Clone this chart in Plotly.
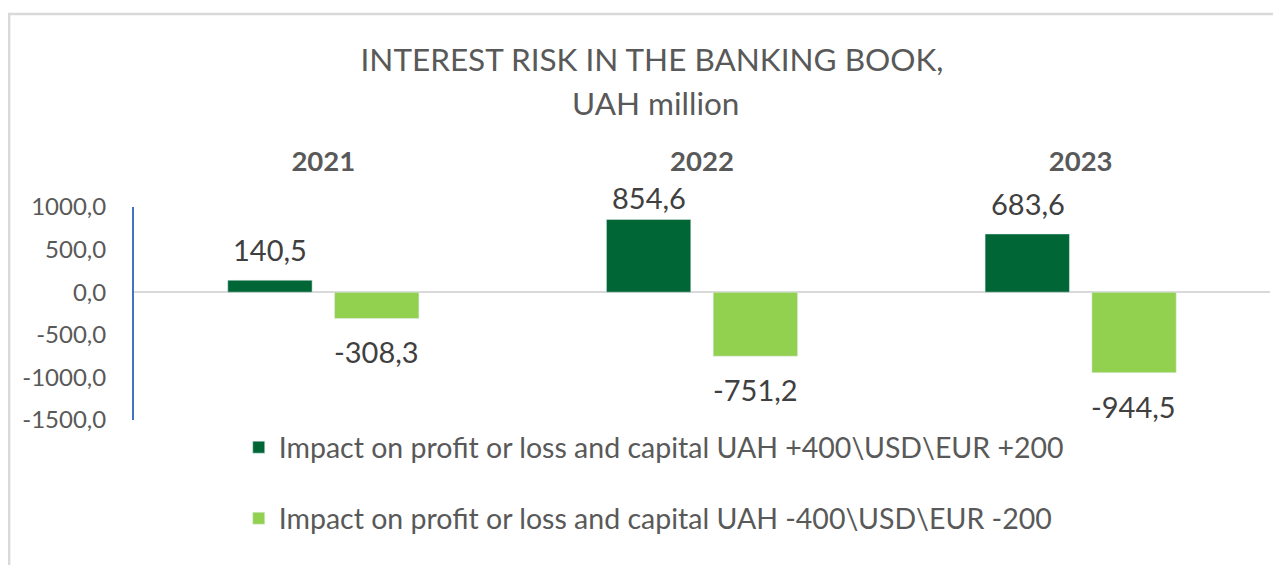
import plotly.graph_objects as go

years = ["2021", "2022", "2023"]
series_up_name = "Impact on profit or loss and capital UAH +400\\USD\\EUR +200"
series_down_name = "Impact on profit or loss and capital UAH -400\\USD\\EUR -200"
series_up = [140.5, 854.6, 683.6]
series_down = [-308.3, -751.2, -944.5]
y_ticks = [1000, 500, 0, -500, -1000, -1500]

FONT = "Lato"
GRAY = "#595959"
DARK = "#006636"
LIGHT = "#92D050"
OFF = 8  # page body margin
Y_MAX = 1000


def fmt(v):
    return f"{v:.1f}".replace(".", ",")


def label_shift(v):
    # Labels near the top of the plot area are pulled closer to the bar (as Excel does)
    if v >= 0:
        return 2 if v > 0.8 * Y_MAX else 11
    return -14


fig = go.Figure()
fig.add_trace(go.Bar(x=years, y=series_up, name=series_up_name, marker_color=DARK,
                     legendgroup="a", hoverinfo="skip"))
fig.add_trace(go.Bar(x=years, y=series_down, name=series_down_name, marker_color=LIGHT,
                     legendgroup="b", hoverinfo="skip"))

for vals, shift in ((series_up, -53), (series_down, 53)):
    for i, v in enumerate(vals):
        fig.add_annotation(
            x=i, y=v, xref="x", yref="y", xshift=shift,
            yshift=label_shift(v),
            yanchor="bottom" if v >= 0 else "top",
            text=fmt(v), showarrow=False,
            font=dict(family=FONT, size=29, color="#404040"))

fig.add_annotation(text="UAH million", xref="paper", yref="paper",
                   x=(652 - 134) / 1128, y=(420 - 103) / 213, xanchor="center",
                   yanchor="middle", showarrow=False,
                   font=dict(family=FONT, size=31.5, color=GRAY))

fig.update_layout(
    width=1281 - OFF, height=565 - OFF,
    margin=dict(l=134 - OFF, r=19 - OFF, t=207 - OFF, b=145, autoexpand=False),
    paper_bgcolor="white", plot_bgcolor="white",
    title=dict(text="INTEREST RISK IN THE BANKING BOOK,", x=(652 - OFF) / (1281 - OFF),
               xanchor="center", y=1 - (60 - OFF) / (565 - OFF), yanchor="middle",
               yref="container",
               font=dict(family=FONT, size=31.5, color=GRAY)),
    barmode="group", bargap=0.436, bargroupgap=0.21,
    showlegend=True,
    legend=dict(orientation="v", x=(238 - 134) / 1128, xanchor="left",
                y=-0.01, yanchor="top", traceorder="grouped", tracegroupgap=31,
                font=dict(family=FONT, size=28.5, color=GRAY), bgcolor="rgba(0,0,0,0)"),
    shapes=[dict(type="rect", xref="paper", yref="paper",
                 x0=(10 - 134) / 1128, x1=(1290 - 134) / 1128,
                 y0=(420 - 580) / 213, y1=(420 - 14) / 213,
                 line=dict(color="#D9D9D9", width=2.5), fillcolor="rgba(0,0,0,0)", layer="below")],
)
fig.update_xaxes(type="category", range=[-0.5, len(years) - 0.5], side="top",
                 showline=False, showgrid=False,
                 tickvals=years, ticktext=[f"<b>{y}</b>" for y in years],
                 ticks="outside", ticklen=24, tickcolor="rgba(0,0,0,0)",
                 automargin=False,
                 tickfont=dict(family=FONT, size=27.5, color=GRAY))
fig.update_yaxes(range=[-1500, Y_MAX], tickvals=y_ticks, ticktext=[fmt(t) for t in y_ticks],
                 showgrid=False, showline=True, linecolor="#4472C4", linewidth=2,
                 zeroline=True, zerolinecolor="#D9D9D9", zerolinewidth=2,
                 automargin=False, ticks="outside", ticklen=21, tickcolor="rgba(0,0,0,0)",
                 tickfont=dict(family=FONT, size=24, color=GRAY))

fig.write_html("out.html")
